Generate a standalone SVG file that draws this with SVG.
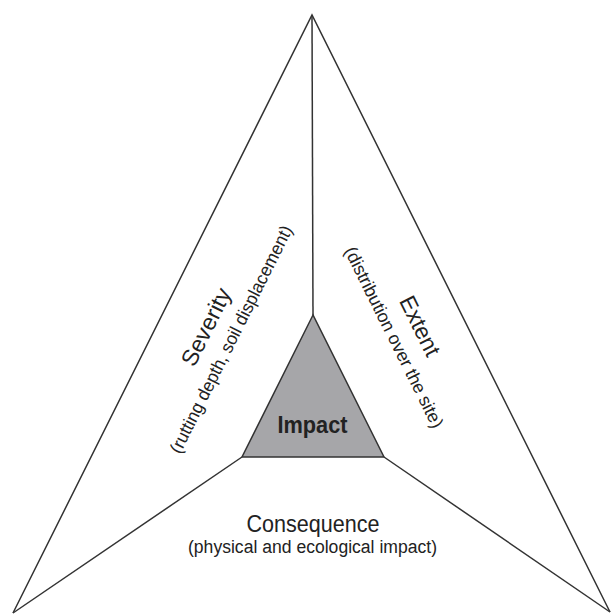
<svg xmlns="http://www.w3.org/2000/svg" width="613" height="615" viewBox="0 0 613 615">
<style>
.ln{fill:none;stroke:#333;stroke-width:1.5;stroke-linejoin:miter}
.t{font-family:"Liberation Sans",Arial,sans-serif;fill:#222;text-anchor:middle}
.big{font-size:23px}
.sub{font-size:18px}
.b{font-weight:bold;font-size:24px}
</style>
<rect width="613" height="615" fill="#fff"/>
<g id="connectors">
<polyline class="ln" points="13,613 312,15 610,612"/>
<line class="ln" x1="312" y1="15" x2="313" y2="315"/>
<line class="ln" x1="13" y1="613" x2="242" y2="457"/>
<line class="ln" x1="610" y1="612" x2="384" y2="457"/>
</g>
<g id="impact">
<polygon points="313,315 242,457 384,457" fill="#a6a6a9" stroke="#333" stroke-width="1.5"/>
<text class="t b" x="312.5" y="433" textLength="70" lengthAdjust="spacingAndGlyphs">Impact</text>
</g>
<g id="severity">
<text class="t big" transform="translate(213,330.5) rotate(-63.4)" textLength="84" lengthAdjust="spacingAndGlyphs">Severity</text>
<text class="t sub" transform="translate(236.5,342) rotate(-63.4)" textLength="252" lengthAdjust="spacingAndGlyphs">(rutting depth, soil displacement)</text>
</g>
<g id="extent">
<text class="t big" transform="translate(413,329.5) rotate(63.5)" textLength="64" lengthAdjust="spacingAndGlyphs">Extent</text>
<text class="t sub" transform="translate(388.5,340) rotate(63.5)" textLength="200" lengthAdjust="spacingAndGlyphs">(distribution over the site)</text>
</g>
<g id="consequence">
<text class="t big" x="313" y="532" textLength="133" lengthAdjust="spacingAndGlyphs">Consequence</text>
<text class="t sub" x="312.5" y="553" textLength="249" lengthAdjust="spacingAndGlyphs">(physical and ecological impact)</text>
</g>
</svg>
